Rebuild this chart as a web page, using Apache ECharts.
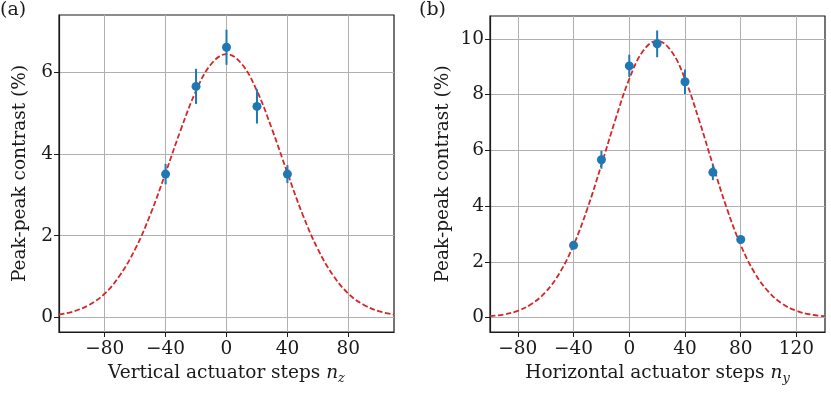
<!DOCTYPE html>
<html>
<head>
<meta charset="utf-8">
<script src="https://cdn.jsdelivr.net/npm/echarts@6/dist/echarts.min.js"></script>
<style>
html, body { margin: 0; padding: 0; background: #fff; }
#myChart { width: 831px; height: 399px; }
</style>
</head>
<body>
<div id="myChart"></div>
<script>
// (a) vertical scan: measured points with error bars
const stepsA = [-40, -20, 0, 20, 40];
const contrastA = [3.51, 5.66, 6.62, 5.17, 3.51];
const errA = [0.25, 0.43, 0.43, 0.42, 0.22];
// (a) gaussian fit
const fitStepsA = [-110, -100, -90, -80, -70, -60, -50, -40, -30, -20, -10, 0, 10, 20, 30, 40, 50, 60, 70, 80, 90, 100, 110];
const fitA = [0.069, 0.15, 0.31, 0.58, 1.03, 1.67, 2.52, 3.54, 4.60, 5.55, 6.21, 6.45, 6.21, 5.55, 4.60, 3.54, 2.52, 1.67, 1.03, 0.58, 0.31, 0.15, 0.069];

// (b) horizontal scan
const stepsB = [-40, -20, 0, 20, 40, 60, 80];
const contrastB = [2.59, 5.66, 9.03, 9.82, 8.46, 5.21, 2.80];
const errB = [0.1, 0.32, 0.4, 0.48, 0.44, 0.28, 0.1];
const fitStepsB = [-100, -90, -80, -70, -60, -50, -40, -30, -20, -10, 0, 10, 20, 30, 40, 50, 60, 70, 80, 90, 100, 110, 120, 130, 140];
const fitB = [0.047, 0.11, 0.24, 0.49, 0.92, 1.60, 2.60, 3.92, 5.48, 7.10, 8.56, 9.57, 9.93, 9.57, 8.56, 7.10, 5.48, 3.92, 2.60, 1.60, 0.92, 0.49, 0.24, 0.11, 0.047];

// tick labels
const xTicksA = [-80, -40, 0, 40, 80];
const yTicksA = [0, 2, 4, 6];
const xTicksB = [-80, -40, 0, 40, 80, 120];
const yTicksB = [0, 2, 4, 6, 8, 10];

const FONT = "DejaVu Serif";
const INK = "#1a1a1a";
const FRAME = "#1a1a1a";
const BLUE = "#1f77b4";
const RED = "#d62728";

function minus(v) {
  return String(v).replace("-", "\u2212");
}

function xAxisFor(idx, ticks, min, max, sub) {
  return {
    type: "value",
    gridIndex: idx,
    min: min,
    max: max,
    name: idx === 0
      ? "{t|Vertical actuator steps }{i|n}{s|" + sub + "}"
      : "{t|Horizontal actuator steps }{i|n}{s|" + sub + "}",
    nameLocation: "middle",
    nameGap: 28,
    nameTextStyle: {
      rich: {
        t: { fontFamily: FONT, fontSize: 18.5, color: INK },
        i: { fontFamily: FONT, fontSize: 18.5, fontStyle: "italic", color: INK },
        s: { fontFamily: FONT, fontSize: 13, fontStyle: "italic", color: INK, padding: [10, 0, 0, 0] },
      },
    },
    axisLine: { show: true, onZero: false, lineStyle: { color: FRAME, width: 1.2 } },
    axisTick: { show: true, inside: false, length: 5, customValues: ticks, lineStyle: { color: FRAME, width: 1 } },
    axisLabel: { customValues: ticks, margin: 8, fontFamily: FONT, fontSize: 18.5, color: INK, formatter: minus },
    splitLine: { show: true, lineStyle: { color: "#b0b0b0", width: 1 } },
  };
}

function yAxisFor(idx, ticks, min, max, gap) {
  return {
    type: "value",
    gridIndex: idx,
    min: min,
    max: max,
    name: "Peak-peak contrast (%)",
    nameLocation: "middle",
    nameGap: gap,
    nameTextStyle: { fontFamily: FONT, fontSize: 18.5, color: INK },
    axisLine: { show: true, onZero: false, lineStyle: { color: FRAME, width: 1.2 } },
    axisTick: { show: true, inside: false, length: 5, customValues: ticks, lineStyle: { color: FRAME, width: 1 } },
    axisLabel: { customValues: ticks, margin: 6, fontFamily: FONT, fontSize: 18.5, color: INK, formatter: minus },
    splitLine: { show: true, lineStyle: { color: "#b0b0b0", width: 1 } },
  };
}

function errorBars(idx, xs, ys, es) {
  return {
    type: "custom",
    xAxisIndex: idx,
    yAxisIndex: idx,
    z: 3,
    data: xs.map((x, i) => [x, ys[i] - es[i], ys[i] + es[i]]),
    renderItem: function (params, api) {
      const lo = api.coord([api.value(0), api.value(1)]);
      const hi = api.coord([api.value(0), api.value(2)]);
      return {
        type: "line",
        shape: { x1: lo[0], y1: lo[1], x2: hi[0], y2: hi[1] },
        style: { stroke: BLUE, lineWidth: 2 },
      };
    },
  };
}

function fitLine(idx, xs, ys) {
  return {
    type: "line",
    xAxisIndex: idx,
    yAxisIndex: idx,
    smooth: 0.4,
    showSymbol: false,
    z: 2,
    data: xs.map((x, i) => [x, ys[i]]),
    lineStyle: { color: RED, width: 1.8, type: [5.5, 2.5] },
  };
}

function points(idx, xs, ys) {
  return {
    type: "scatter",
    xAxisIndex: idx,
    yAxisIndex: idx,
    symbolSize: 9,
    z: 4,
    itemStyle: { color: BLUE, opacity: 1 },
    data: xs.map((x, i) => [x, ys[i]]),
  };
}

let myChart = echarts.init(document.getElementById("myChart"));
myChart.setOption({
  animation: false,
  backgroundColor: "#fff",
  grid: [
    { left: 59, right: 437, top: 15, bottom: 67, show: true, borderColor: FRAME, borderWidth: 1.2, backgroundColor: "transparent" },
    { left: 490, right: 6, top: 16, bottom: 67, show: true, borderColor: FRAME, borderWidth: 1.2, backgroundColor: "transparent" },
  ],
  xAxis: [
    xAxisFor(0, xTicksA, -110, 110, "z"),
    xAxisFor(1, xTicksB, -100, 140.5, "y"),
  ],
  yAxis: [
    yAxisFor(0, yTicksA, -0.36, 7.41, 29),
    yAxisFor(1, yTicksB, -0.52, 10.82, 37),
  ],
  graphic: [
    { type: "text", left: 0, top: 1, style: { text: "(a)", fontFamily: FONT, fontSize: 19, fill: INK } },
    { type: "text", left: 419, top: 1, style: { text: "(b)", fontFamily: FONT, fontSize: 19, fill: INK } },
  ],
  series: [
    fitLine(0, fitStepsA, fitA),
    errorBars(0, stepsA, contrastA, errA),
    points(0, stepsA, contrastA),
    fitLine(1, fitStepsB, fitB),
    errorBars(1, stepsB, contrastB, errB),
    points(1, stepsB, contrastB),
  ],
});
</script>
</body>
</html>
